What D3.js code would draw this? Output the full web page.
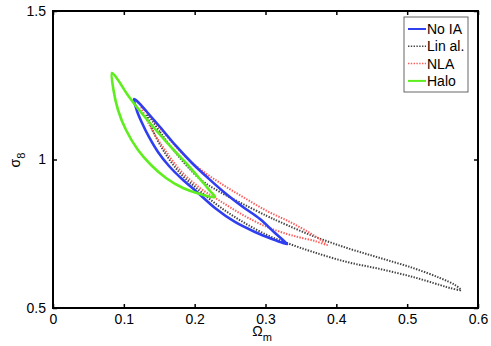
<!DOCTYPE html>
<html>
<head>
<meta charset="utf-8">
<script src="https://cdn.jsdelivr.net/npm/d3@7"></script>
<style>
  body { margin: 0; background: #fff; }
  text { font-family: "Liberation Sans", Arial, sans-serif; }
</style>
</head>
<body>
<div class="container"></div>
<script>
// contour outlines, [Omega_m, sigma_8]
const noIA = [
  [0.1144, 1.2037], [0.1186, 1.1633], [0.1257, 1.1229], [0.1355, 1.0758], [0.1482, 1.0253],
  [0.1638, 0.9781], [0.1821, 0.9343], [0.2033, 0.8906], [0.2287, 0.8367], [0.2569, 0.7896],
  [0.2852, 0.7559], [0.3092, 0.7323], [0.3247, 0.7189], [0.3304, 0.7155], [0.3261, 0.7256],
  [0.3134, 0.7525], [0.2922, 0.7997], [0.2682, 0.8401], [0.2428, 0.8872], [0.2188, 0.9377],
  [0.1962, 0.9882], [0.1737, 1.0455], [0.1511, 1.1094], [0.1327, 1.1599], [0.1214, 1.1902]
]
const linAl = [
  [0.1327, 1.1532], [0.1511, 1.0926], [0.1722, 1.0253], [0.2075, 0.9343], [0.2358, 0.8906],
  [0.2682, 0.8502], [0.3021, 0.8098], [0.3205, 0.7896], [0.3671, 0.7424], [0.4151, 0.702],
  [0.4617, 0.6684], [0.5082, 0.6347], [0.5464, 0.601], [0.5675, 0.5774], [0.576, 0.5606],
  [0.5605, 0.5673], [0.5464, 0.5774], [0.5082, 0.6044], [0.4617, 0.6313], [0.4151, 0.6549],
  [0.3671, 0.6886], [0.3304, 0.7189], [0.3021, 0.7458], [0.2682, 0.7896], [0.2358, 0.8401],
  [0.2075, 0.8939], [0.1793, 0.9545], [0.1581, 1.0219], [0.1412, 1.096]
]
const nla = [
  [0.1242, 1.1801], [0.144, 1.1263], [0.1652, 1.0657], [0.1864, 1.0118], [0.2075, 0.968],
  [0.2358, 0.9209], [0.2682, 0.8737], [0.3021, 0.8266], [0.3346, 0.7896], [0.3628, 0.7525],
  [0.3798, 0.7256], [0.3868, 0.7121], [0.3699, 0.7256], [0.3487, 0.7374], [0.3304, 0.7492],
  [0.3021, 0.7727], [0.2682, 0.8131], [0.2358, 0.8603], [0.2075, 0.904], [0.1793, 0.9646],
  [0.1581, 1.032], [0.1398, 1.0993], [0.1299, 1.1465]
]
const halo = [
  [0.0833, 1.2912], [0.0854, 1.234], [0.0918, 1.1667], [0.1031, 1.0993], [0.12, 1.032],
  [0.1384, 0.9815], [0.1595, 0.9377], [0.1835, 0.904], [0.2075, 0.8838], [0.2287, 0.8737],
  [0.2217, 0.8939], [0.2075, 0.9343], [0.1864, 0.9916], [0.1652, 1.0455], [0.144, 1.1027],
  [0.1228, 1.1633], [0.1045, 1.2205], [0.0918, 1.2677]
]
const seriesNames = ['No IA', 'Lin al.', 'NLA', 'Halo']
const xTicks = [0, 0.1, 0.2, 0.3, 0.4, 0.5, 0.6]
const yTicks = [0.5, 1, 1.5]

const styles = [
  { color: '#2f3ff0', width: 2.6, dash: null },
  { color: '#444', width: 2, dash: '1.4,1.4' },
  { color: '#ff5a5a', width: 2, dash: '1.4,1.4' },
  { color: '#5eee1e', width: 2.6, dash: null }
]
const contours = [noIA, linAl, nla, halo]

const W = 491, H = 346
const mLeft = 53, mRight = 478, mTop = 11, mBottom = 308

const x = d3.scaleLinear().domain([0, 0.6]).range([mLeft, mRight])
const y = d3.scaleLinear().domain([0.5, 1.5]).range([mBottom, mTop])

const svg = d3.select('.container').append('svg')
  .attr('width', W)
  .attr('height', H)

const line = d3.line()
  .x(d => x(d[0]))
  .y(d => y(d[1]))
  .curve(d3.curveCatmullRomClosed.alpha(0.5))

// draw order: dotted under, solid over
const order = [1, 2, 0, 3]
order.forEach(i => {
  svg.append('path')
    .attr('d', line(contours[i]))
    .attr('fill', 'none')
    .attr('stroke', styles[i].color)
    .attr('stroke-width', styles[i].width)
    .attr('stroke-dasharray', styles[i].dash)
})

// axes box with inward ticks
const gx = svg.append('g').attr('transform', `translate(0,${mBottom})`)
  .call(d3.axisBottom(x).tickValues(xTicks).tickSizeInner(-4).tickSizeOuter(0).tickPadding(8)
    .tickFormat(d => d3.format('')(d)))
const gxt = svg.append('g').attr('transform', `translate(0,${mTop})`)
  .call(d3.axisTop(x).tickValues(xTicks).tickSizeInner(-4).tickSizeOuter(0).tickFormat(''))
const gy = svg.append('g').attr('transform', `translate(${mLeft},0)`)
  .call(d3.axisLeft(y).tickValues(yTicks).tickSizeInner(-4).tickSizeOuter(0).tickPadding(7)
    .tickFormat(d => d3.format('')(d)))
const gyr = svg.append('g').attr('transform', `translate(${mRight},0)`)
  .call(d3.axisRight(y).tickValues(yTicks).tickSizeInner(-4).tickSizeOuter(0).tickFormat(''))

;[gx, gxt, gy, gyr].forEach(g => {
  g.select('.domain').remove()
  g.selectAll('line').attr('stroke', '#000').attr('stroke-width', 1.5)
  g.selectAll('text').attr('font-size', 14).attr('fill', '#000')
    .style('font-family', '"Liberation Sans", Arial, sans-serif')
})
gx.selectAll('text').attr('dy', '0.6em')

svg.append('rect')
  .attr('x', mLeft).attr('y', mTop)
  .attr('width', mRight - mLeft).attr('height', mBottom - mTop)
  .attr('fill', 'none').attr('stroke', '#000').attr('stroke-width', 2)

// axis labels
const xl = svg.append('text')
  .attr('x', 262).attr('y', 336)
  .attr('text-anchor', 'middle')
  .attr('font-size', 14)
xl.append('tspan').text('Ω')
xl.append('tspan').attr('font-size', 11).attr('dy', 5).text('m')

const yl = svg.append('text')
  .attr('transform', 'translate(20,160) rotate(-90)')
  .attr('text-anchor', 'middle')
  .attr('font-size', 14)
yl.append('tspan').text('σ')
yl.append('tspan').attr('font-size', 11).attr('dy', 5).text('8')

// legend
const lg = svg.append('g').attr('transform', 'translate(404,17)')
lg.append('rect')
  .attr('width', 64).attr('height', 75)
  .attr('fill', '#fff').attr('stroke', '#666').attr('stroke-width', 1)
seriesNames.forEach((name, i) => {
  const yy = 12 + i * 17.3
  lg.append('line')
    .attr('x1', 4).attr('x2', 22).attr('y1', yy).attr('y2', yy)
    .attr('stroke', styles[i].color)
    .attr('stroke-width', i === 0 || i === 3 ? 2 : 1.5)
    .attr('stroke-dasharray', styles[i].dash)
  lg.append('text')
    .attr('x', 23).attr('y', yy + 5)
    .attr('font-size', 14)
    .text(name)
})
</script>
</body>
</html>
